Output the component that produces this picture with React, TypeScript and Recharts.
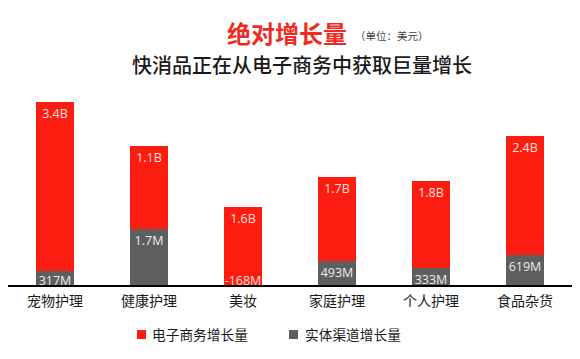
import React from 'react';
import { BarChart, Bar, XAxis, YAxis, LabelList } from 'recharts';

// Categories
const categories = ['宠物护理', '健康护理', '美妆', '家庭护理', '个人护理', '食品杂货'];
// Value labels printed on the bars
const ecommerceLabels = ['3.4B', '1.1B', '1.6B', '1.7B', '1.8B', '2.4B'];
const offlineLabels = ['317M', '1.7M', '-168M', '493M', '333M', '619M'];
// Drawn bar heights as they appear in the (not-to-scale) picture
const ecommerceHeights = [169, 83, 79, 84, 87, 119];
const offlineHeights = [15, 57, 0, 25, 18, 31];

const legendNames = ['电子商务增长量', '实体渠道增长量'];

const RED = '#fc1c10';
const GRAY = '#5e5e60';
const NUM_FONT = '"Open Sans", "Noto Sans", sans-serif';
const CJK_FONT = '"Noto Sans CJK SC", "Noto Sans", sans-serif';

const data = categories.map((c, i) => ({
  name: c,
  ecommerce: ecommerceHeights[i],
  offline: offlineHeights[i],
  ecomLabel: ecommerceLabels[i],
  offLabel: offlineLabels[i],
}));

const RedLabel = (props: any) => {
  const { x, y, width, value } = props;
  return (
    <text x={x + width / 2} y={y + 11} textAnchor="middle" dominantBaseline="central"
      fontSize={12.5} fontFamily={NUM_FONT} fill="#fde0dc">{value}</text>
  );
};

// label for an offline value with no visible gray bar, drawn at the bottom of the red bar
const BottomLabel = (props: any) => {
  const { x, y, width, height, value } = props;
  if (!value) return null;
  return (
    <text x={x + width / 2} y={y + height - 6} textAnchor="middle" dominantBaseline="central"
      fontSize={12.5} fontFamily={NUM_FONT} fill="#fde0dc">{value}</text>
  );
};

const GrayLabel = (props: any) => {
  const { x, y, width, height, value } = props;
  if (!value) return null;
  const cy = Math.min(y + 11, y + height - 6);
  return (
    <text x={x + width / 2} y={cy} textAnchor="middle" dominantBaseline="central"
      fontSize={12.5} fontFamily={NUM_FONT} fill="#ececec">{value}</text>
  );
};

export default function App() {
  return (
    <div style={{ position: 'absolute', left: 0, top: 0, width: 580, height: 359, background: '#fff', overflow: 'hidden' }}>
      <div style={{ position: 'absolute', left: 227, top: 20, fontSize: 24, lineHeight: '26px', fontWeight: 700, color: '#f02a22', fontFamily: CJK_FONT, whiteSpace: 'nowrap' }}>绝对增长量</div>
      <div style={{ position: 'absolute', left: 355, top: 29, fontSize: 10.5, lineHeight: '14px', color: '#444', fontFamily: CJK_FONT, whiteSpace: 'nowrap' }}>（单位：美元）</div>
      <div style={{ position: 'absolute', left: 132, top: 53, fontSize: 20, lineHeight: '24px', fontWeight: 500, color: '#1a1a1a', fontFamily: CJK_FONT, whiteSpace: 'nowrap' }}>快消品正在从电子商务中获取巨量增长</div>

      <BarChart width={580} height={359} data={data} margin={{ top: 86, right: 8, left: 8, bottom: 0 }}>
        <YAxis hide domain={[0, 200]} />
        <XAxis dataKey="name" height={73} axisLine={{ stroke: '#000', strokeWidth: 2 }} tickLine={false} tickSize={0} tickMargin={10}
          tick={{ fontSize: 14, fill: '#1a1a1a', fontFamily: CJK_FONT }} interval={0} />
        <Bar dataKey="offline" stackId="a" fill={GRAY} barSize={38} isAnimationActive={false}>
          <LabelList dataKey={(d: any) => (d.offline === 0 ? '' : d.offLabel)} content={GrayLabel} />
        </Bar>
        <Bar dataKey="ecommerce" stackId="a" fill={RED} barSize={38} isAnimationActive={false}>
          <LabelList dataKey="ecomLabel" content={RedLabel} />
          <LabelList dataKey={(d: any) => (d.offline === 0 ? d.offLabel : '')} content={BottomLabel} />
        </Bar>
      </BarChart>

      <div style={{ position: 'absolute', left: 137, top: 330, width: 9, height: 9, background: RED }} />
      <div style={{ position: 'absolute', left: 152, top: 326, fontSize: 13.7, lineHeight: '16px', color: '#1a1a1a', fontFamily: CJK_FONT, whiteSpace: 'nowrap' }}>{legendNames[0]}</div>
      <div style={{ position: 'absolute', left: 289, top: 330, width: 9, height: 9, background: GRAY }} />
      <div style={{ position: 'absolute', left: 305, top: 326, fontSize: 13.7, lineHeight: '16px', color: '#1a1a1a', fontFamily: CJK_FONT, whiteSpace: 'nowrap' }}>{legendNames[1]}</div>
    </div>
  );
}
